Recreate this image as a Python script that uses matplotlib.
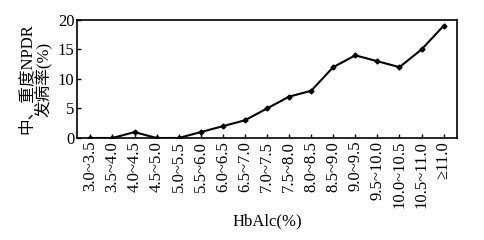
import numpy as np
import matplotlib.pyplot as plt

plt.rcParams['font.family'] = ['Liberation Serif', 'Noto Sans CJK SC']

categories = ['3.0~3.5', '3.5~4.0', '4.0~4.5', '4.5~5.0', '5.0~5.5', '5.5~6.0',
              '6.0~6.5', '6.5~7.0', '7.0~7.5', '7.5~8.0', '8.0~8.5', '8.5~9.0',
              '9.0~9.5', '9.5~10.0', '10.0~10.5', '10.5~11.0', '≥11.0']
rates = [0, 0, 1, 0, 0, 1, 2, 3, 5, 7, 8, 12, 14, 13, 12, 15, 19]
yticks = [0, 5, 10, 15, 20]

fig = plt.figure(figsize=(4.85, 2.4), dpi=100)
ax = fig.add_axes([0.159, 0.425, 0.783, 0.492])

x = np.arange(len(categories))
ax.plot(x, rates, color='black', lw=1.5, marker='D', ms=2.5)

ax.set_xlim(-0.6, len(categories) - 0.4)
ax.set_ylim(0, 20)
ax.set_yticks(yticks)
ax.set_xticks(x)
ax.set_xticklabels(categories, rotation=90, fontsize=12)
ax.tick_params(axis='both', direction='in', length=3, width=1, labelsize=12, pad=2)
for s in ax.spines.values():
    s.set_linewidth(1.2)

ax.set_xlabel('HbAlc(%)', fontsize=12, labelpad=4)
ax.set_ylabel('中、重度NPDR\n发病率(%)', fontsize=12, linespacing=1.0, labelpad=4)

fig.savefig('out.png', dpi=100)
